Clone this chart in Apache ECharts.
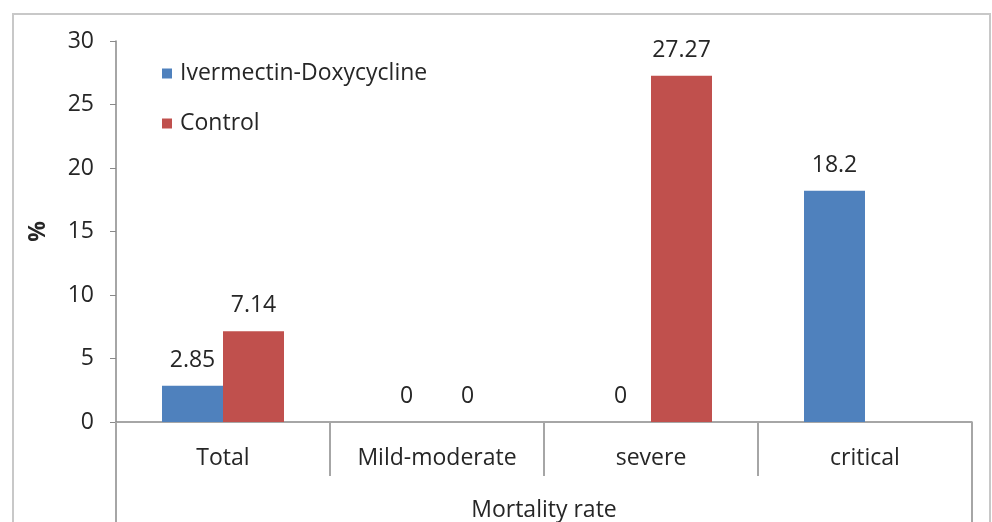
<!DOCTYPE html>
<html>
<head>
<meta charset="utf-8">
<script src="https://cdn.jsdelivr.net/npm/echarts@6/dist/echarts.min.js"></script>
<style>
  html, body { margin: 0; padding: 0; background: #fff; }
  #chart { width: 992px; height: 522px; }
</style>
</head>
<body>
<div id="chart"></div>
<script>
// data
const categories = ['Total', 'Mild-moderate', 'severe', 'critical']
const groupLabel = ['Mortality rate']
const ivermectin = [2.85, 0, 0, 18.2]
const control = [7.14, 0, 27.27, '-']
const seriesNames = ['Ivermectin-Doxycycline', 'Control']

const font = 'Open Sans'
const textColor = '#262626'
const axisGray = '#898989'
const fs = 23

const chart = echarts.init(document.getElementById('chart'))

const labelOpt = {
  show: true,
  position: 'top',
  distance: 14,
  color: textColor,
  fontFamily: font,
  fontSize: fs
}

const option = {
  animation: false,
  backgroundColor: '#fff',
  textStyle: { fontFamily: font },
  graphic: [
    {
      type: 'rect',
      shape: { x: 13, y: 14, width: 977, height: 600 },
      style: { fill: 'none', stroke: '#c8c8c8', lineWidth: 2 },
      silent: true
    }
  ],
  legend: {
    orient: 'vertical',
    left: 157,
    top: 57,
    itemWidth: 10,
    itemHeight: 10,
    itemGap: 27,
    icon: 'rect',
    data: seriesNames,
    textStyle: { color: textColor, fontFamily: font, fontSize: fs, padding: [0, 0, 0, 3] }
  },
  grid: {
    left: 116,
    right: 20,
    top: 41,
    bottom: 100
  },
  xAxis: [
    {
      type: 'category',
      data: categories,
      position: 'bottom',
      axisLine: { lineStyle: { color: axisGray, width: 1.5 } },
      axisTick: { show: true, length: 54, lineStyle: { color: '#a6a6a6', width: 2 } },
      axisLabel: { color: textColor, fontFamily: font, fontSize: fs, margin: 25 }
    },
    {
      type: 'category',
      data: groupLabel,
      position: 'bottom',
      axisLine: { show: false },
      axisTick: { show: true, length: 110, lineStyle: { color: '#a6a6a6', width: 2 } },
      axisLabel: { color: textColor, fontFamily: font, fontSize: fs, margin: 77 }
    }
  ],
  yAxis: {
    type: 'value',
    min: 0,
    max: 30,
    interval: 5,
    name: '%',
    nameLocation: 'middle',
    nameRotate: 90,
    nameGap: 66,
    nameTextStyle: { color: textColor, fontFamily: font, fontSize: fs, fontWeight: 'bold' },
    splitLine: { show: false },
    axisLine: { show: true, lineStyle: { color: axisGray, width: 1.5 } },
    axisTick: { show: true, length: 6, lineStyle: { color: axisGray } },
    axisLabel: { color: textColor, fontFamily: font, fontSize: fs, margin: 22 }
  },
  series: [
    {
      name: seriesNames[0],
      type: 'bar',
      data: ivermectin,
      barWidth: 61,
      barGap: 0,
      itemStyle: { color: '#4F81BD' },
      label: labelOpt
    },
    {
      name: seriesNames[1],
      type: 'bar',
      data: control,
      barWidth: 61,
      barGap: 0,
      itemStyle: { color: '#C0504D' },
      label: labelOpt
    }
  ]
}

chart.setOption(option)
window.addEventListener('resize', () => {
  chart.resize()
})
</script>
</body>
</html>
